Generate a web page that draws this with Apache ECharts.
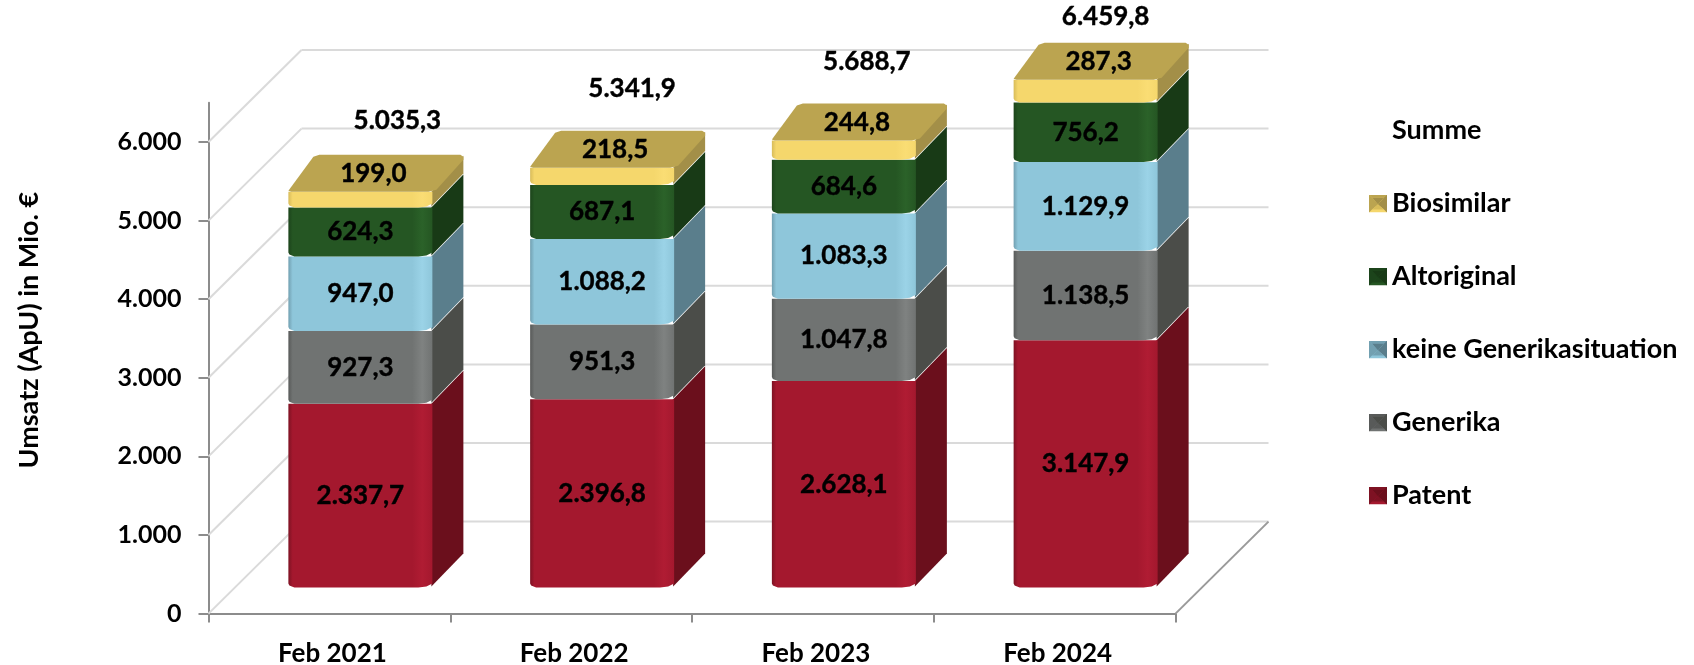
<!DOCTYPE html>
<html>
<head>
<meta charset="utf-8">
<title>Umsatz nach Marktsegment</title>
<script src="https://cdn.jsdelivr.net/npm/echarts@6/dist/echarts.min.js"></script>
<style>
  html, body { margin: 0; padding: 0; background: #fff; }
  #chart { width: 1694px; height: 665px; }
</style>
</head>
<body>
<div id="chart"></div>
<script>
const categories = ["Feb 2021", "Feb 2022", "Feb 2023", "Feb 2024"];
const patent = [2337.7, 2396.8, 2628.1, 3147.9];
const generika = [927.3, 951.3, 1047.8, 1138.5];
const keineGenerika = [947.0, 1088.2, 1083.3, 1129.9];
const altoriginal = [624.3, 687.1, 684.6, 756.2];
const biosimilar = [199.0, 218.5, 244.8, 287.3];
const summe = [5035.3, 5341.9, 5688.7, 6459.8];
const yTicks = [0, 1000, 2000, 3000, 4000, 5000, 6000];

const FONT = "Lato";
const BACK_DX = 93, BACK_DY = 92;   // depth of the 3d floor
const BAR_DX = 31, BAR_LIFT = 26;   // where the bars stand on the floor
const BAR_W = 144, SIDE_DX = 31, SIDE_DY = 33, TOP_EXTRA = 3;
// the sum labels were placed by hand in the original
const sumOffset = [[37, -71], [30, -79], [23, -79], [20, -63]];

const deNumber = (v, digits) => v.toLocaleString("de-DE", {
  minimumFractionDigits: digits, maximumFractionDigits: digits
});

const layers = [
  { name: "Patent", values: patent, front: "#a4182e", light: "#b01c33", dark: "#7e1223", side: "#6b0f1c" },
  { name: "Generika", values: generika, front: "#707372", light: "#7f8281", dark: "#585a59", side: "#4b4d49" },
  { name: "keine Generikasituation", values: keineGenerika, front: "#8ec6da", light: "#9bd3e7", dark: "#72a0b1", side: "#5a7e8c" },
  { name: "Altoriginal", values: altoriginal, front: "#255623", light: "#2b6229", dark: "#1c441b", side: "#183a16" },
  { name: "Biosimilar", values: biosimilar, front: "#f5d76c", light: "#fadd74", dark: "#d8bc5a", side: "#a38f48", top: "#bba450" }
];

function pyramidIcon(c) {
  const svg = '<svg xmlns="http://www.w3.org/2000/svg" width="18" height="18">' +
    '<rect width="18" height="18" fill="' + c.front + '"/>' +
    '<polygon points="0,0 18,0 15,3 3,3" fill="' + (c.top || c.dark) + '"/>' +
    '<polygon points="0,0 3,3 9,10 3,15 0,18" fill="' + (c.top || c.dark) + '"/>' +
    '<polygon points="18,0 18,18 15,15 9,10 15,3" fill="' + c.side + '"/>' +
    '<polygon points="3,3 15,3 9,10" fill="' + c.side + '"/>' +
    '<polygon points="3,15 15,15 9,10" fill="' + c.dark + '"/></svg>';
  return "image://data:image/svg+xml;charset=utf-8," + encodeURIComponent(svg);
}

function backdrop(params, api) {
  const sys = params.coordSys;
  const y = api.coord([0, api.value(0)])[1];
  const x0 = sys.x, x1 = sys.x + sys.width;
  const grey = { stroke: "#dadada", lineWidth: 2, fill: null };
  const kids = [
    { type: "line", shape: { x1: x0, y1: y, x2: x0 + BACK_DX, y2: y - BACK_DY }, style: grey },
    { type: "line", shape: { x1: x0 + BACK_DX, y1: y - BACK_DY, x2: x1 + BACK_DX, y2: y - BACK_DY }, style: grey }
  ];
  if (api.value(0) === 0) {
    kids.push({ type: "line", shape: { x1: x1, y1: y, x2: x1 + BACK_DX, y2: y - BACK_DY },
      style: { stroke: "#9a9a9a", lineWidth: 2, fill: null } });
  }
  return { type: "group", children: kids };
}

function barSegment(layer, isTop) {
  return function (params, api) {
    const idx = api.value(0);
    const base = api.coord([idx, api.value(1)]);
    const head = api.coord([idx, api.value(2)]);
    const xl = base[0] - BAR_W / 2 + BAR_DX;
    const xr = xl + BAR_W;
    const yb = base[1] - BAR_LIFT;
    const yt = head[1] - BAR_LIFT;
    const r = 4;
    const topDy = SIDE_DY + (isTop ? TOP_EXTRA : 0);
    const kids = [];
    kids.push({
      type: "polygon",
      shape: { points: [[xr - 1, yb - 1], [xr + SIDE_DX, yb - SIDE_DY - 1], [xr + SIDE_DX, yt - topDy], [xr - 1, yt]] },
      style: { fill: layer.side }
    });
    kids.push({
      type: "polygon",
      shape: { points: [[xl, yt], [xr, yt], [xr, yb - r], [xr - r - 2, yb - 1], [xr - 14, yb], [xl + 6, yb], [xl + 1, yb - 2], [xl, yb - r]] },
      style: { fill: {
        type: "linear", x: 0, y: 0, x2: 1, y2: 0,
        colorStops: [
          { offset: 0, color: layer.dark }, { offset: 0.03, color: layer.front },
          { offset: 0.86, color: layer.front }, { offset: 0.93, color: layer.light },
          { offset: 1, color: layer.front }
        ]
      } }
    });
    if (isTop) {
      kids.push({
        type: "polygon",
        shape: { points: [[xl, yt - 1], [xl + SIDE_DX - 6, yt - topDy + 1], [xl + SIDE_DX, yt - topDy - 1],
          [xr + SIDE_DX - 3, yt - topDy - 1], [xr + SIDE_DX, yt - topDy + 1], [xr + SIDE_DX, yt - topDy + 4],
          [xr + 4, yt - 2], [xr - 4, yt], [xl + 3, yt]] },
        style: { fill: layer.top }
      });
    }
    const cx = (xl + xr) / 2;
    kids.push({
      type: "text",
      style: {
        text: deNumber(api.value(2) - api.value(1), 1),
        x: isTop ? cx + 13 : cx,
        y: isTop ? yt - 18 : (yt + yb) / 2,
        fill: "#000", stroke: "#000", lineWidth: 0.4,
        font: "bold 26px " + FONT, align: "center", verticalAlign: "middle"
      }
    });
    return { type: "group", children: kids };
  };
}

function sumLabel(params, api) {
  const idx = api.value(0);
  const pos = api.coord([idx, api.value(1)]);
  return {
    type: "text",
    style: {
      text: deNumber(api.value(1), 1),
      x: pos[0] + BAR_DX + sumOffset[idx][0],
      y: pos[1] - BAR_LIFT + sumOffset[idx][1],
      fill: "#000", stroke: "#000", lineWidth: 0.4,
      font: "bold 26px " + FONT, align: "center", verticalAlign: "middle"
    }
  };
}

const running = categories.map(() => 0);
const barSeries = layers.map((layer, i) => ({
  name: layer.name,
  type: "custom",
  coordinateSystem: "cartesian2d",
  clip: false,
  encode: { x: 0, y: [1, 2] },
  itemStyle: { color: layer.front },
  renderItem: barSegment(layer, i === layers.length - 1),
  data: layer.values.map((v, c) => {
    const start = running[c];
    running[c] = start + v;
    return [c, start, running[c]];
  })
}));

const chart = echarts.init(document.getElementById("chart"));
chart.setOption({
  animation: false,
  backgroundColor: "#fff",
  grid: { left: 208.5, right: 518.5, top: 102.7, bottom: 51.4, containLabel: false, outerBoundsMode: "none" },
  legend: {
    left: 1364,
    top: 112,
    orient: "vertical",
    itemWidth: 18,
    itemHeight: 18,
    itemGap: 46,
    selectedMode: false,
    textStyle: { fontFamily: FONT, fontWeight: "bold", fontSize: 27, color: "#000" },
    data: [
      { name: "Summe", icon: "rect", itemStyle: { color: "rgba(0,0,0,0)" } }
    ].concat(layers.slice().reverse().map(l => ({ name: l.name, icon: pyramidIcon(l) })))
  },
  xAxis: {
    type: "category",
    data: categories,
    axisLine: { lineStyle: { color: "#8c8c8c", width: 2 } },
    axisTick: { show: true, length: 9, lineStyle: { color: "#8c8c8c", width: 2 } },
    axisLabel: { margin: 27, padding: [0, 0, 0, 6], color: "#000", fontFamily: FONT, fontWeight: "bold", fontSize: 26 },
    splitLine: { show: false }
  },
  yAxis: {
    type: "value",
    min: 0,
    max: 6500,
    name: "Umsatz (ApU) in Mio. €",
    nameLocation: "middle",
    nameGap: 166,
    nameTextStyle: { color: "#000", fontFamily: FONT, fontWeight: "bold", fontSize: 27, padding: [0, 0, 0, 56] },
    axisLine: { show: true, lineStyle: { color: "#8c8c8c", width: 2 } },
    axisTick: { show: true, length: 10, customValues: yTicks, lineStyle: { color: "#8c8c8c", width: 2 } },
    axisLabel: {
      margin: 27, padding: [4, 0, 0, 0], color: "#000", fontFamily: FONT, fontWeight: "bold", fontSize: 25,
      customValues: yTicks,
      formatter: v => deNumber(v, 0)
    },
    splitLine: { show: false }
  },
  series: [
    {
      name: "backdrop",
      type: "custom",
      coordinateSystem: "cartesian2d",
      clip: false,
      silent: true,
      encode: { y: 0 },
      renderItem: backdrop,
      data: yTicks.map(v => [v])
    },
    ...barSeries,
    {
      name: "Summe",
      type: "custom",
      coordinateSystem: "cartesian2d",
      clip: false,
      encode: { x: 0, y: 1 },
      itemStyle: { color: "rgba(0,0,0,0)" },
      renderItem: sumLabel,
      data: summe.map((v, c) => [c, v])
    }
  ]
});
window.addEventListener("resize", () => chart.resize());
</script>
</body>
</html>
